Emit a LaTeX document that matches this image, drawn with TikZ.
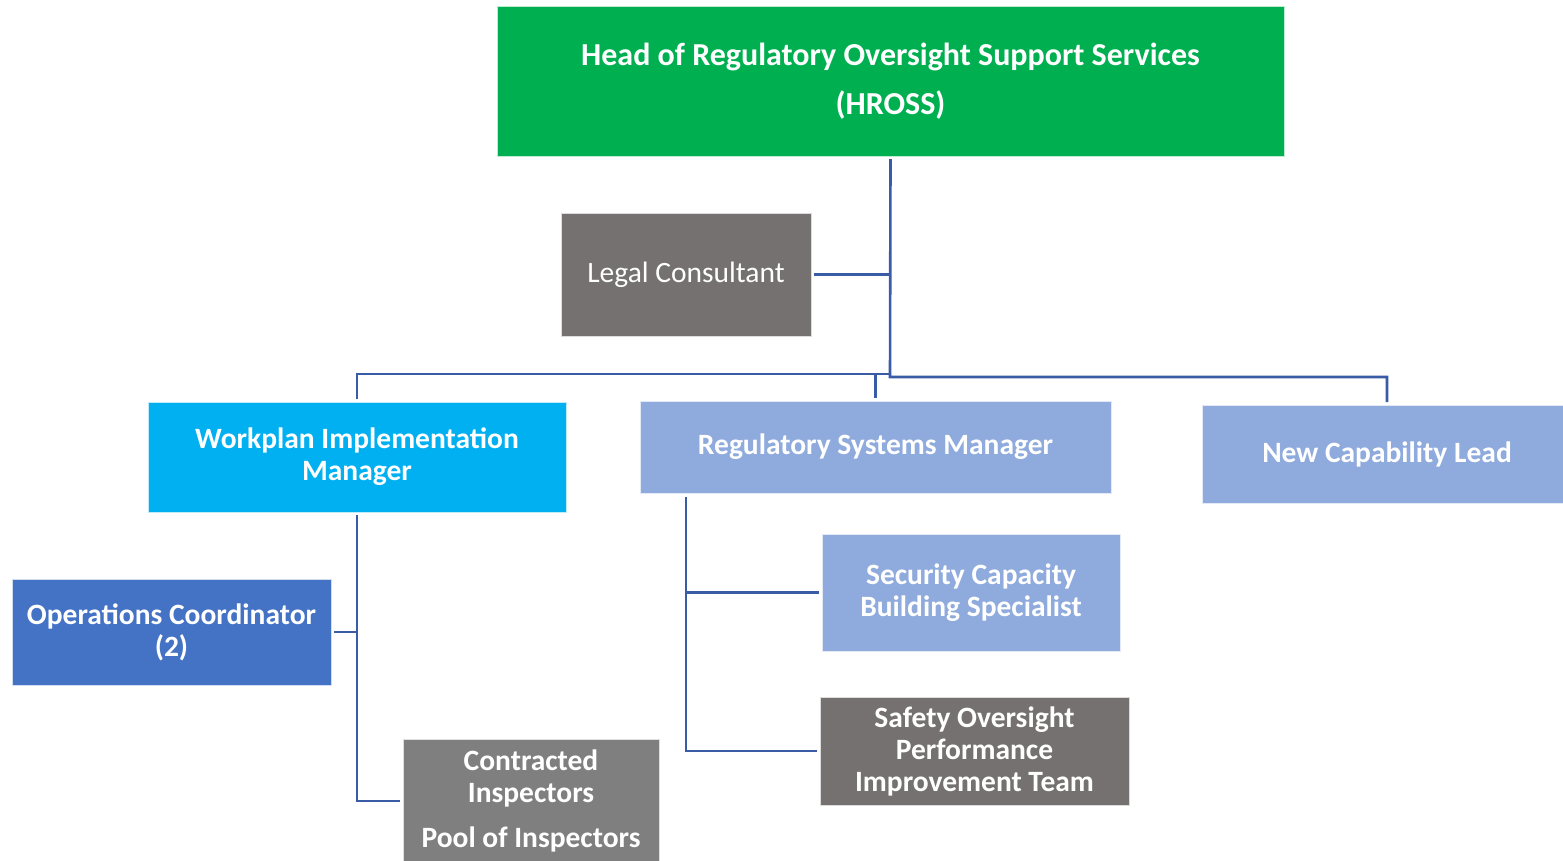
\documentclass[tikz,border=0pt]{standalone}
\usepackage{fontspec}
\setmainfont{Carlito}
\usetikzlibrary{calc}
\definecolor{cGreen}{HTML}{00B050}
\definecolor{cCyan}{HTML}{00B0F0}
\definecolor{cBlue}{HTML}{4472C4}
\definecolor{cLight}{HTML}{8FAADC}
\definecolor{cTaupe}{HTML}{767171}
\definecolor{cGrey}{HTML}{7F7F7F}
\definecolor{cLine}{HTML}{3A5BA5}
\tikzset{
  box/.style={rectangle, inner sep=0pt, outer sep=3pt, align=center, text=white,
    draw=white!75!#1, line width=0.8pt, fill=#1,
    font=\fontsize{29.5}{32}\selectfont\bfseries},
  link/.style={draw=cLine, line width=2.6pt},
}
\begin{document}
\begin{tikzpicture}[x=1pt, y=-1pt]
\useasboundingbox[fill=white] (0,0) rectangle (1563,860);

% top box
\node[box=cGreen, minimum width=787, minimum height=150,
      font=\fontsize{32}{49}\selectfont\bfseries] (hross) at (890.5,81)
  {Head of Regulatory Oversight Support Services\\(HROSS)};

% adviser
\node[box=cTaupe, minimum width=250, minimum height=123,
      font=\fontsize{29.5}{32}\selectfont] (legal) at (686,274.5) {Legal Consultant};

% second tier
\node[box=cCyan, minimum width=418, minimum height=110] (wim) at (357,457)
  {Workplan Implementation\\Manager};
\node[box=cLight, minimum width=471, minimum height=92] (rsm) at (875.5,447)
  {Regulatory Systems Manager};
\node[box=cLight, minimum width=370, minimum height=98] (ncl) at (1387,454)
  {New Capability Lead};

% third tier
\node[box=cBlue, minimum width=319, minimum height=106] (ops) at (171.5,632)
  {Operations Coordinator\\(2)};
\node[box=cGrey, minimum width=256, minimum height=124] (contract) at (531,801)
  {Contracted\\Inspectors\\[13pt]Pool of Inspectors};
\node[box=cLight, minimum width=298, minimum height=117] (scbs) at (971,592.5)
  {Security Capacity\\Building Specialist};
\node[box=cTaupe, minimum width=309, minimum height=108] (sopit) at (974.5,751)
  {Safety Oversight\\Performance\\Improvement Team};

% junctions of the reporting lines
\coordinate (hub) at (890,377);
\coordinate (lbar) at (890,374);
\coordinate (rsmdrop) at (686,497);

% reporting lines
\draw[link] (hross.south) -- (hub) -| (ncl.north);
\draw[link] (legal.east) -- (legal.east -| hub);
\draw[link] (wim.north) |- (lbar);
\draw[link] (rsm.north) -- (rsm.north |- lbar);
\draw[link] (wim.south) |- (contract.west);
\draw[link] (ops.east) -- (ops.east -| wim.south);
\draw[link] (rsmdrop) |- (sopit.west);
\draw[link] (scbs.west) -- (scbs.west -| rsmdrop);
\end{tikzpicture}
\end{document}
